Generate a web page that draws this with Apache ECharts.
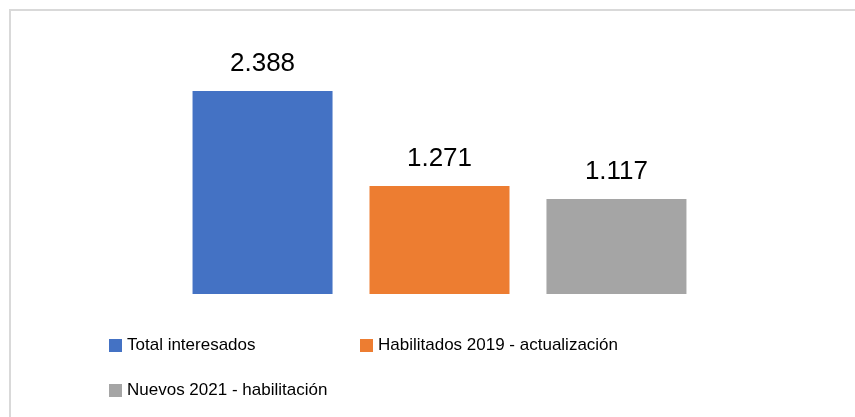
<!DOCTYPE html>
<html>
<head>
<meta charset="utf-8">
<script src="https://cdn.jsdelivr.net/npm/echarts@6/dist/echarts.min.js"></script>
<style>
  html, body { margin: 0; padding: 0; background: #fff; }
  #chart { width: 855px; height: 417px; }
</style>
</head>
<body>
<div id="chart"></div>
<script>
// data
var seriesNames = ["Total interesados", "Habilitados 2019 - actualización", "Nuevos 2021 - habilitación"];
var seriesValues = [2388, 1271, 1117];
var seriesColors = ["#4472C4", "#ED7D31", "#A5A5A5"];

// spanish thousands separator: 2388 -> 2.388
function fmt(v) {
  return String(v).replace(/\B(?=(\d{3})+(?!\d))/g, ".");
}

var chart = echarts.init(document.getElementById("chart"));

var series = seriesNames.map(function (name, i) {
  return {
    name: name,
    type: "bar",
    data: [seriesValues[i]],
    barWidth: 140,
    barGap: "26.4%",
    itemStyle: { color: seriesColors[i] },
    label: {
      show: true,
      position: "top",
      distance: 14,
      fontFamily: "Liberation Sans",
      fontSize: 26,
      color: "#000",
      formatter: function (p) { return fmt(p.value); }
    }
  };
});

var legendText = { fontFamily: "Liberation Sans", fontSize: 17, color: "#000" };
var legendBase = {
  icon: "rect",
  itemWidth: 13,
  itemHeight: 13,
  padding: 0,
  selectedMode: false,
  textStyle: legendText
};

chart.setOption({
  animation: false,
  backgroundColor: "#fff",
  grid: { left: 100, right: 76, top: 39, bottom: 123 },
  xAxis: {
    type: "category",
    data: [""],
    axisLine: { show: false },
    axisTick: { show: false },
    axisLabel: { show: false }
  },
  yAxis: {
    type: "value",
    min: 0,
    max: 3000,
    interval: 500,
    show: false,
    splitLine: { show: false }
  },
  legend: [
    Object.assign({ data: [seriesNames[0]], left: 109, top: 337 }, legendBase),
    Object.assign({ data: [seriesNames[1]], left: 360, top: 337 }, legendBase),
    Object.assign({ data: [seriesNames[2]], left: 109, top: 382 }, legendBase)
  ],
  graphic: [{
    type: "polyline",
    shape: { points: [[10, 417], [10, 10], [855, 10]] },
    style: { stroke: "#d9d9d9", lineWidth: 2, fill: null },
    silent: true
  }],
  series: series
});
</script>
</body>
</html>
